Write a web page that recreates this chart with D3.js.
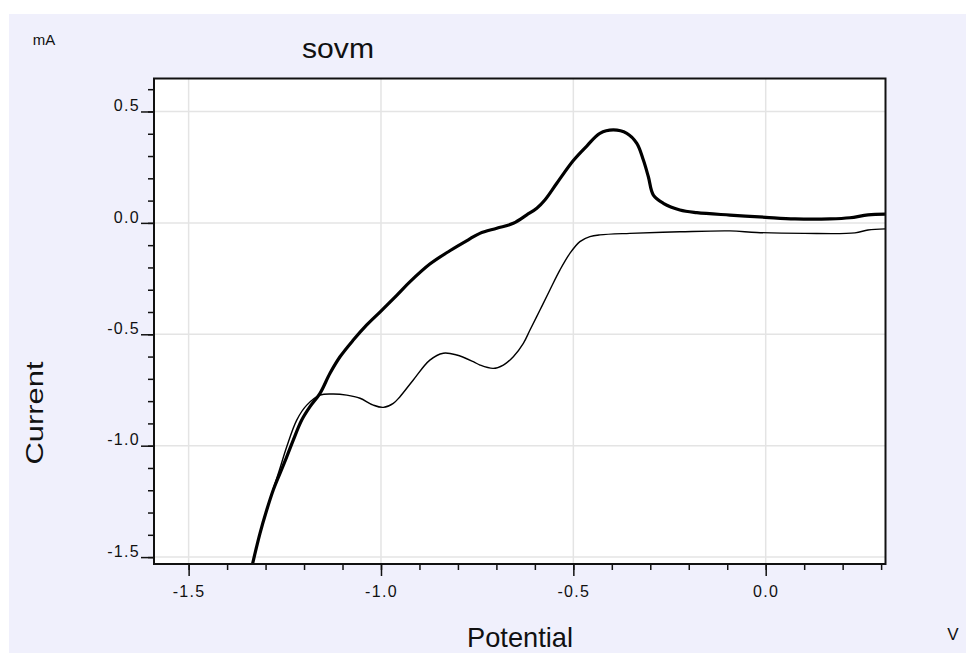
<!DOCTYPE html>
<html>
<head>
<meta charset="utf-8">
<script src="https://cdn.jsdelivr.net/npm/d3@7"></script>
<style>
  body { margin: 0; background: #fff; }
  text { font-family: "Liberation Sans", Arial, sans-serif; fill: #111; }
</style>
</head>
<body>
<svg id="chart" width="966" height="653"></svg>
<script>
// thick trace (scan with oxidation peak)
var thickV = [-1.3335, -1.3145, -1.297, -1.280, -1.2625, -1.245, -1.228, -1.206, -1.1845, -1.1585, -1.1325, -1.1065, -1.072, -1.037, -1.002, -0.959, -0.925, -0.873, -0.821, -0.769, -0.743, -0.699, -0.656, -0.621, -0.595, -0.574, -0.543, -0.500, -0.465, -0.431, -0.396, -0.361, -0.335, -0.318, -0.305, -0.292, -0.266, -0.223, -0.179, -0.093, 0.000, 0.076, 0.167, 0.219, 0.266, 0.311];
var thickI = [-1.528, -1.3935, -1.289, -1.199, -1.124, -1.050, -0.975, -0.885, -0.825, -0.765, -0.675, -0.601, -0.526, -0.458, -0.399, -0.325, -0.265, -0.185, -0.125, -0.072, -0.047, -0.024, -0.002, 0.036, 0.066, 0.103, 0.178, 0.280, 0.345, 0.402, 0.417, 0.402, 0.357, 0.282, 0.207, 0.125, 0.088, 0.058, 0.046, 0.035, 0.025, 0.018, 0.018, 0.023, 0.036, 0.039];

// thin trace (scan with reduction waves)
var thinV = [-1.3335, -1.3145, -1.297, -1.281, -1.265, -1.245, -1.219, -1.193, -1.1585, -1.124, -1.089, -1.0545, -1.020, -0.994, -0.968, -0.9506, -0.916, -0.873, -0.838, -0.803, -0.760, -0.7427, -0.708, -0.682, -0.656, -0.630, -0.6127, -0.5867, -0.561, -0.535, -0.509, -0.483, -0.457, -0.431, -0.353, -0.223, -0.093, -0.023, 0.100, 0.232, 0.266, 0.311];
var thinI = [-1.528, -1.3935, -1.289, -1.199, -1.115, -1.005, -0.885, -0.818, -0.773, -0.768, -0.773, -0.787, -0.818, -0.828, -0.810, -0.780, -0.705, -0.616, -0.585, -0.593, -0.623, -0.638, -0.653, -0.638, -0.601, -0.541, -0.481, -0.391, -0.301, -0.212, -0.137, -0.084, -0.062, -0.054, -0.047, -0.040, -0.036, -0.043, -0.047, -0.045, -0.032, -0.027];

var xMajor = [-1.5, -1.0, -0.5, 0.0];
var yMajor = [-1.5, -1.0, -0.5, 0.0, 0.5];
var xMinor = d3.range(-15, 4).map(function(d) { return d / 10; });
var yMinor = d3.range(-15, 7).map(function(d) { return d / 10; });

var plot = { left: 154, top: 78.5, right: 885.5, bottom: 564 };

var svg = d3.select('#chart');

// lavender panel with thin white margin on top/left
svg.append('rect')
  .attr('x', 9).attr('y', 14)
  .attr('width', 966 - 9).attr('height', 653 - 14)
  .attr('fill', '#f0f0fc');

var x = d3.scaleLinear().domain([-1.590, 0.3114]).range([plot.left, plot.right]);
var y = d3.scaleLinear().domain([-1.531, 0.648]).range([plot.bottom, plot.top]);

svg.append('rect')
  .attr('x', plot.left).attr('y', plot.top)
  .attr('width', plot.right - plot.left).attr('height', plot.bottom - plot.top)
  .attr('fill', '#fff');

// grid
svg.append('g').selectAll('line').data(xMajor).enter().append('line')
  .attr('x1', function(d) { return x(d); }).attr('x2', function(d) { return x(d); })
  .attr('y1', plot.top).attr('y2', plot.bottom)
  .attr('stroke', '#e4e4e4').attr('stroke-width', 1.5);
svg.append('g').selectAll('line').data(yMajor).enter().append('line')
  .attr('x1', plot.left).attr('x2', plot.right)
  .attr('y1', function(d) { return y(d); }).attr('y2', function(d) { return y(d); })
  .attr('stroke', '#e4e4e4').attr('stroke-width', 1.5);

// axes, hyphen instead of unicode minus
var fmt = function(d) { return d3.format('.1f')(d).replace('\u2212', '-'); };
var xAxis = d3.axisBottom(x).tickValues(xMinor).tickSize(6).tickFormat('');
var xAxisMajor = d3.axisBottom(x).tickValues(xMajor).tickSize(12).tickPadding(10).tickFormat(fmt);
var yAxis = d3.axisLeft(y).tickValues(yMinor).tickSize(6).tickFormat('');
var yAxisMajor = d3.axisLeft(y).tickValues(yMajor).tickSize(13).tickPadding(1).tickFormat(fmt);

[xAxis, xAxisMajor].forEach(function(a) {
  svg.append('g').attr('class', 'xa').attr('transform', 'translate(0,' + plot.bottom + ')').call(a);
});
[yAxis, yAxisMajor].forEach(function(a) {
  svg.append('g').attr('class', 'ya').attr('transform', 'translate(' + plot.left + ',0)').call(a);
});
svg.selectAll('.xa .domain, .ya .domain').remove();
svg.selectAll('.xa line, .ya line').attr('stroke', '#111').attr('stroke-width', 1.5);
svg.selectAll('.xa text, .ya text')
  .attr('font-size', 16).attr('letter-spacing', 1.3).attr('fill', '#2a2a2a')
  .attr('font-family', '"Liberation Sans", Arial, sans-serif');
svg.selectAll('.ya text').attr('dy', '-0.05em');

// traces
var line = d3.line()
  .x(function(d) { return x(d[0]); })
  .y(function(d) { return y(d[1]); })
  .curve(d3.curveCatmullRom.alpha(0.5));

svg.append('clipPath').attr('id', 'clip').append('rect')
  .attr('x', plot.left).attr('y', plot.top)
  .attr('width', plot.right - plot.left).attr('height', plot.bottom - plot.top);

svg.append('path')
  .datum(d3.zip(thinV, thinI))
  .attr('clip-path', 'url(#clip)')
  .attr('d', line)
  .attr('fill', 'none').attr('stroke', '#000').attr('stroke-width', 1.4);

svg.append('path')
  .datum(d3.zip(thickV, thickI))
  .attr('clip-path', 'url(#clip)')
  .attr('d', line)
  .attr('fill', 'none').attr('stroke', '#000').attr('stroke-width', 3.2);

// frame
svg.append('rect')
  .attr('x', plot.left).attr('y', plot.top)
  .attr('width', plot.right - plot.left).attr('height', plot.bottom - plot.top)
  .attr('fill', 'none').attr('stroke', '#111').attr('stroke-width', 2);

// labels
svg.append('text').text('sovm')
  .attr('x', 338).attr('y', 58).attr('text-anchor', 'middle')
  .attr('font-size', 28).attr('textLength', 72).attr('lengthAdjust', 'spacingAndGlyphs');
svg.append('text').text('mA')
  .attr('x', 44).attr('y', 45).attr('text-anchor', 'middle').attr('font-size', 15);
svg.append('text').text('Potential')
  .attr('x', 520).attr('y', 647).attr('text-anchor', 'middle')
  .attr('font-size', 28).attr('textLength', 106).attr('lengthAdjust', 'spacingAndGlyphs');
svg.append('text').text('V')
  .attr('x', 953).attr('y', 640).attr('text-anchor', 'middle').attr('font-size', 17);
svg.append('text').text('Current')
  .attr('transform', 'translate(43,413) rotate(-90)')
  .attr('text-anchor', 'middle').attr('font-size', 24)
  .attr('textLength', 103).attr('lengthAdjust', 'spacingAndGlyphs');
</script>
</body>
</html>
